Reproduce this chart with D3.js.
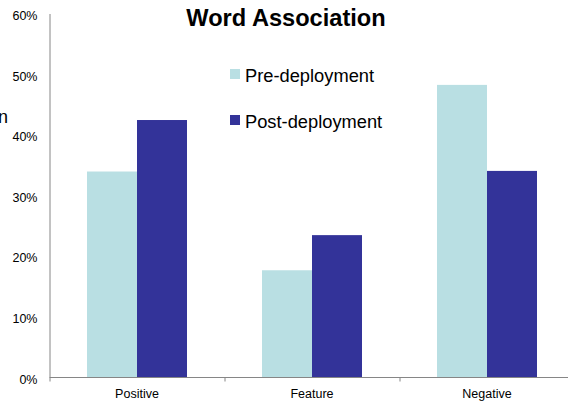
<!DOCTYPE html>
<html>
<head>
<meta charset="utf-8">
<script src="https://cdn.jsdelivr.net/npm/d3@7"></script>
<style>
  html, body { margin: 0; padding: 0; background: #fff; overflow: hidden; }
  svg { display: block; font-family: "Liberation Sans", Arial, sans-serif; }
</style>
</head>
<body>
<svg id="chart" width="568" height="403"></svg>
<script>
// Word association shares, before and after deployment
const categories = ["Positive", "Feature", "Negative"];
const seriesNames = ["Pre-deployment", "Post-deployment"];
const preValues = [0.34, 0.177, 0.483];
const postValues = [0.425, 0.235, 0.341];
const yTicks = [0, 0.1, 0.2, 0.3, 0.4, 0.5, 0.6];
const seriesColors = ["#B9DFE3", "#333399"];

const svg = d3.select("#chart");
const axisColor = "#868686";

const plotLeft = 49.5, plotTop = 14, plotBottom = 377.5, band = 175;

const x0 = d3.scaleBand()
  .domain(categories)
  .range([plotLeft, plotLeft + band * categories.length])
  .paddingInner(0).paddingOuter(0);

const x1 = d3.scaleBand()
  .domain(seriesNames)
  .range([0, x0.bandwidth()])
  .paddingInner(0).paddingOuter(0.75);

const y = d3.scaleLinear().domain([0, 0.6]).range([plotBottom, plotTop]);

const color = d3.scaleOrdinal().domain(seriesNames).range(seriesColors);

const rows = categories.map((c, i) => ({
  category: c,
  values: [
    { series: seriesNames[0], value: preValues[i] },
    { series: seriesNames[1], value: postValues[i] }
  ]
}));

// Bars
const groups = svg.append("g").selectAll("g")
  .data(rows).join("g")
  .attr("transform", d => `translate(${x0(d.category)},0)`);

groups.selectAll("rect")
  .data(d => d.values).join("rect")
  .attr("x", d => x1(d.series))
  .attr("y", d => y(d.value))
  .attr("width", x1.bandwidth())
  .attr("height", d => y(0) - y(d.value))
  .attr("fill", d => color(d.series));

// Y axis (labels only, plain line)
const yAxis = svg.append("g")
  .attr("transform", `translate(${plotLeft},0)`)
  .call(d3.axisLeft(y).tickValues(yTicks).tickFormat(d3.format(".0%")).tickSize(0).tickPadding(12));
yAxis.select(".domain").attr("stroke", axisColor).attr("d", `M0.5,${plotTop}V${plotBottom}`);
yAxis.selectAll("text")
  .attr("font-family", "Liberation Sans, Arial, sans-serif")
  .attr("font-size", 12.5).attr("fill", "#000").attr("dy", "0.45em");

// X axis with ticks at category boundaries
const xAxisG = svg.append("g").attr("transform", `translate(0,${plotBottom})`);
xAxisG.append("line")
  .attr("x1", plotLeft).attr("x2", 600).attr("y1", 0).attr("y2", 0)
  .attr("stroke", axisColor);
xAxisG.selectAll("line.tick")
  .data(categories).join("line")
  .attr("class", "tick")
  .attr("x1", d => x0(d) + 0.5).attr("x2", d => x0(d) + 0.5)
  .attr("y1", 0).attr("y2", 4)
  .attr("stroke", axisColor);
xAxisG.selectAll("text")
  .data(categories).join("text")
  .attr("x", d => x0(d) + x0.bandwidth() / 2)
  .attr("y", 20)
  .attr("text-anchor", "middle")
  .attr("font-size", 12.5)
  .text(d => d);

// Title
svg.append("text")
  .attr("x", 286).attr("y", 26)
  .attr("text-anchor", "middle")
  .attr("font-size", 23.6)
  .attr("font-weight", "bold")
  .text("Word Association");

// Visible tail of the side label at the left edge
svg.append("text")
  .attr("x", 8).attr("y", 123)
  .attr("text-anchor", "end")
  .attr("font-size", 18)
  .text("n");

// Legend
const legend = svg.append("g").selectAll("g")
  .data(seriesNames).join("g")
  .attr("transform", (d, i) => `translate(230,${69 + i * 46})`);
legend.append("rect")
  .attr("width", 10).attr("height", 10)
  .attr("fill", d => color(d));
legend.append("text")
  .attr("x", 15).attr("y", 12.5)
  .attr("font-size", 18.3)
  .text(d => d);
</script>
</body>
</html>
